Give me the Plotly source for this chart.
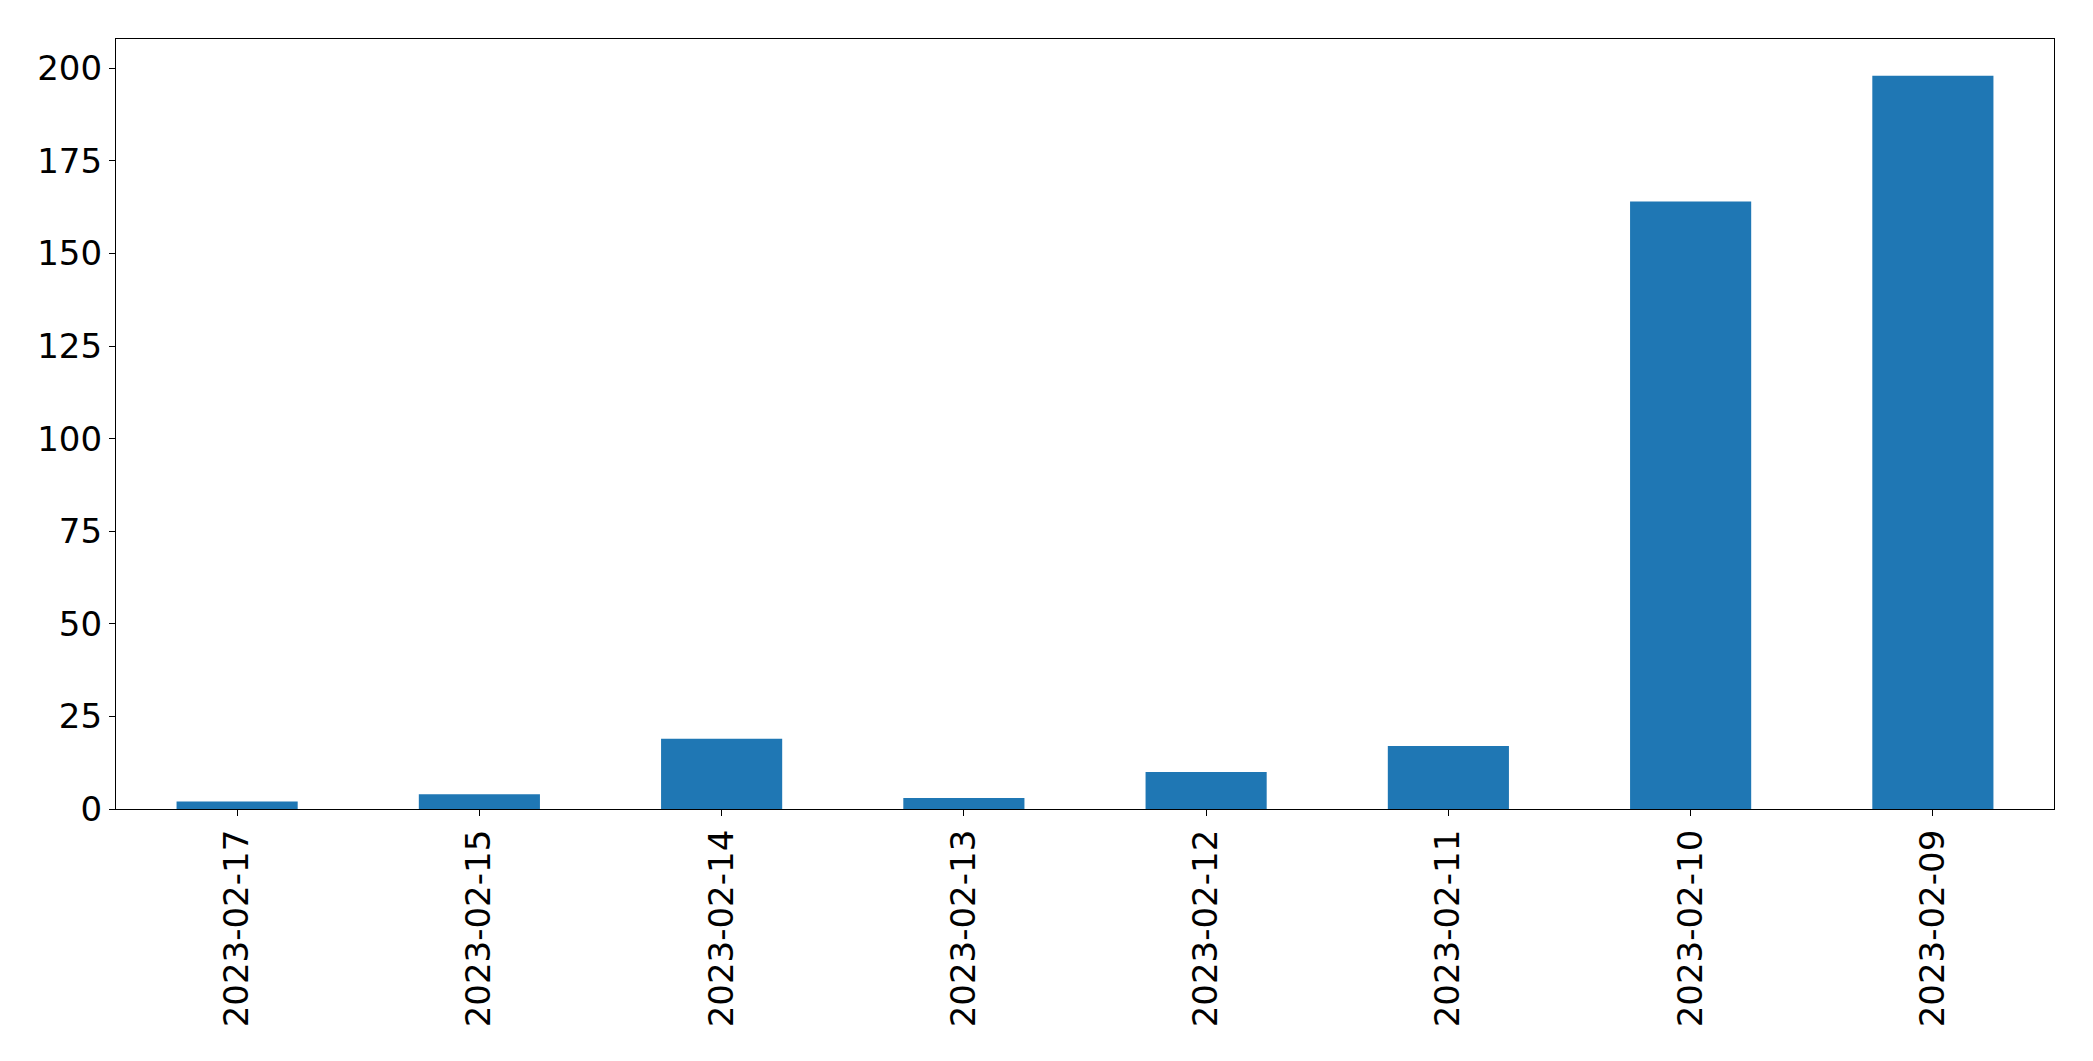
import plotly.graph_objects as go

dates = ["2023-02-17", "2023-02-15", "2023-02-14", "2023-02-13",
         "2023-02-12", "2023-02-11", "2023-02-10", "2023-02-09"]
counts = [2, 4, 19, 3, 10, 17, 164, 198]
y_ticks = [0, 25, 50, 75, 100, 125, 150, 175, 200]

fig = go.Figure(go.Bar(x=dates, y=counts, width=0.5,
                       marker=dict(color="#1f77b4", line=dict(width=0))))

axis_common = dict(showline=True, linecolor="black", linewidth=1.3, mirror=True,
                   showgrid=False, zeroline=False, ticks="outside", ticklen=6,
                   tickcolor="black", tickwidth=1.3)

fig.update_layout(
    width=2085, height=1053,
    margin=dict(l=108, r=39, t=31, b=252),
    paper_bgcolor="white", plot_bgcolor="white",
    showlegend=False,
)
fig.update_xaxes(type="category", range=[-0.5, 7.5], tickangle=-90,
                 tickfont=dict(family="DejaVu Sans", size=34, color="black"), **axis_common)
fig.update_yaxes(range=[0, 207.9], tickvals=y_ticks, ticktext=[str(v) for v in y_ticks],
                 tickfont=dict(family="DejaVu Sans", size=34, color="black"), **axis_common)

fig.write_html("out.html")
